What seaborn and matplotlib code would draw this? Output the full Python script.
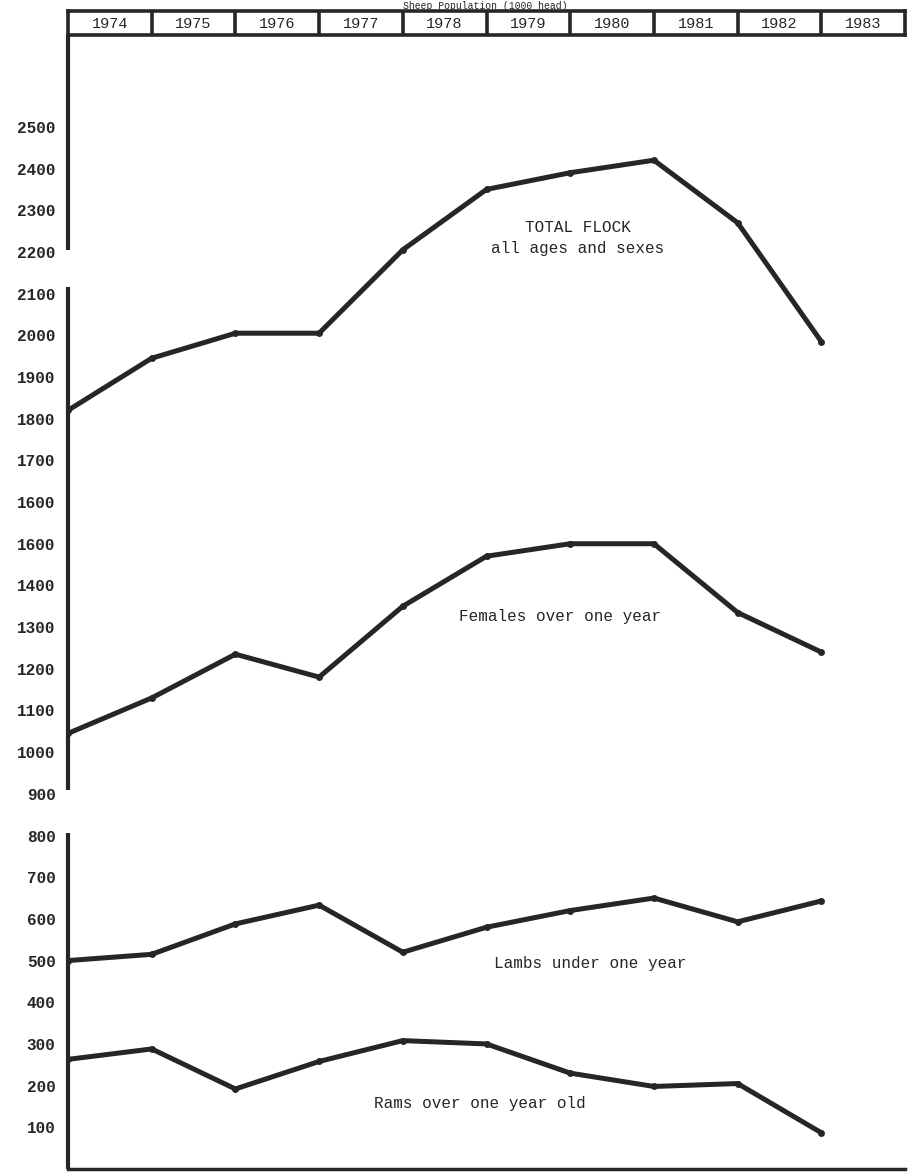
import numpy as np
import pandas as pd
import seaborn as sns
import matplotlib.pyplot as plt

# values (1000 head)
years = [1974, 1975, 1976, 1977, 1978, 1979, 1980, 1981, 1982, 1983]
total_flock = [1820, 1945, 2005, 2005, 2205, 2350, 2390, 2420, 2270, 1985]
females = [1045, 1130, 1235, 1180, 1350, 1470, 1500, 1500, 1335, 1240]
lambs = [500, 515, 588, 633, 520, 580, 620, 650, 593, 643]
rams = [263, 288, 192, 258, 308, 300, 230, 198, 205, 87]

y_ticks = [100, 200, 300, 400, 500, 600, 700, 800, 900, 1000, 1100, 1200,
           1300, 1400, 1500, 1600, 1700, 1800, 1900, 2000, 2100, 2200, 2300,
           2400, 2500]
y_tick_labels = ["100", "200", "300", "400", "500", "600", "700", "800", "900",
                 "1000", "1100", "1200", "1300", "1400", "1600", "1600", "1700",
                 "1800", "1900", "2000", "2100", "2200", "2300", "2400", "2500"]
header_years = ["1974", "1975", "1976", "1977", "1978", "1979", "1980",
                "1981", "1982", "1983"]

series_names = ["total", "females", "lambs", "rams"]
df = pd.DataFrame({
    "year": years * 4,
    "value": total_flock + females + lambs + rams,
    "series": np.repeat(series_names, len(years)),
})

sns.set_style("white")
plt.rcParams['font.family'] = ['Liberation Mono', 'DejaVu Sans']

ink = "#262626"
W, H = 909, 1173
fig = plt.figure(figsize=(W / 100, H / 100), dpi=100)

left = 68 / W
width = (905 - 68) / W
ax = fig.add_axes([left, 4 / H, width, (1169 - 36) / H])

sns.lineplot(data=df, x="year", y="value", hue="series", units="series",
             estimator=None, palette={s: ink for s in series_names},
             linewidth=3.6, marker="o", markersize=5, markeredgewidth=0,
             legend=False, ax=ax)

ax.set_xlim(1974, 1984)
ax.set_ylim(0, 2718)
ax.set_xlabel("")
ax.set_ylabel("")
ax.set_xticks([])
ax.set_yticks(y_ticks)
ax.set_yticklabels(y_tick_labels, fontsize=11.5, fontweight="bold", color=ink)
ax.tick_params(axis="y", length=3, width=1, pad=6, color=ink)

for side in ["top", "right", "left"]:
    ax.spines[side].set_visible(False)
ax.spines["bottom"].set_linewidth(2.5)
ax.spines["bottom"].set_color(ink)

# broken left axis, as drawn in the original
for lo, hi in [(0, 805), (910, 2115), (2205, 2718)]:
    ax.vlines(1974, lo, hi, color=ink, linewidth=3, clip_on=False)

# series labels
txt = dict(ha="center", va="center", fontsize=11.5, color=ink)
ax.text(1980.09, 2258, "TOTAL FLOCK", **txt)
ax.text(1980.09, 2208, "all ages and sexes", **txt)
ax.text(1979.88, 1325, "Females over one year", **txt)
ax.text(1980.24, 494, "Lambs under one year", **txt)
ax.text(1978.92, 158, "Rams over one year old", **txt)

# boxed year header
hx = fig.add_axes([left, (H - 35) / H, width, 24 / H])
hx.set_xlim(1974, 1984)
hx.set_ylim(0, 1)
hx.set_xticks([])
hx.set_yticks([])
for side in hx.spines:
    hx.spines[side].set_linewidth(2.6)
    hx.spines[side].set_color(ink)
for yr in years[1:]:
    hx.axvline(yr, color=ink, linewidth=2.6)
for yr, lab in zip(years, header_years):
    hx.text(yr + 0.5, 0.45, lab, ha="center", va="center", fontsize=11,
            color=ink)

# title squeezed above the header strip
fig.text(485 / W, 1 - 1 / H, "Sheep Population (1000 head)", ha="center",
         va="top", fontsize=7, color=ink)

fig.savefig("out.png", dpi=100, facecolor="white")
